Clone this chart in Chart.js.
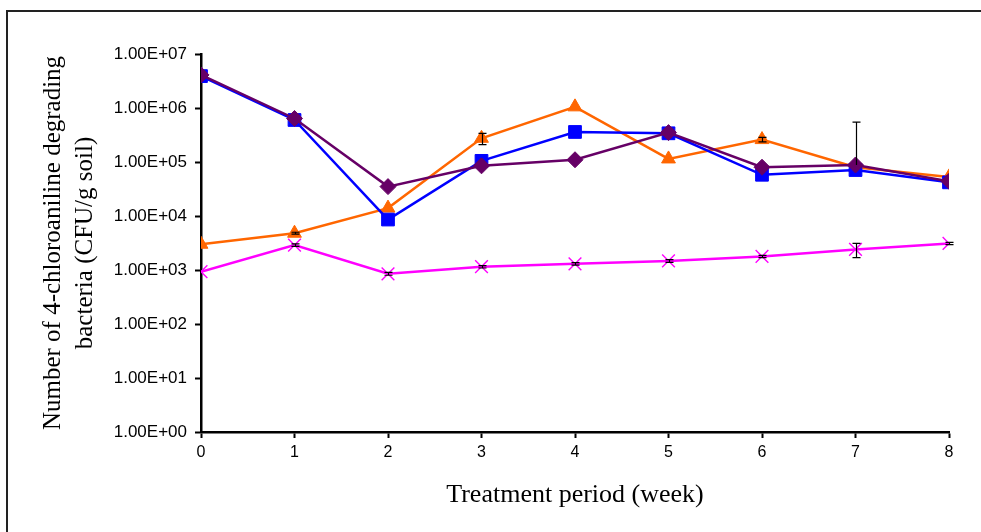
<!DOCTYPE html>
<html>
<head>
<meta charset="utf-8">
<script src="https://cdn.jsdelivr.net/npm/chart.js@4.4.1/dist/chart.umd.min.js"></script>
<style>
  html, body { margin: 0; padding: 0; background: #fff; overflow: hidden; }
  #wrap { position: relative; width: 981px; height: 532px; }
  #frame { position: absolute; left: 6px; top: 10px; width: 1000px; height: 600px; border: 2px solid #222; box-sizing: border-box; }
  canvas { position: absolute; left: 0; top: 0; }
</style>
</head>
<body>
<div id="wrap">
  <div id="frame"></div>
  <canvas id="c" width="981" height="532"></canvas>
</div>
<script>
// Treatment period (week)
const weeks = [0, 1, 2, 3, 4, 5, 6, 7, 8];
// y tick labels (log scale, powers of ten)
const yTickValues = [1, 10, 100, 1000, 10000, 100000, 1000000, 10000000];
const yTickLabels = ['1.00E+00','1.00E+01','1.00E+02','1.00E+03','1.00E+04','1.00E+05','1.00E+06','1.00E+07'];

// Series values (CFU/g soil)
const seriesPurple  = [4.1e6, 6.4e5, 3.5e4, 8.5e4, 1.1e5, 3.5e5, 8.0e4, 8.8e4, 4.4e4];
const seriesBlue    = [3.9e6, 6.0e5, 8.6e3, 1.05e5, 3.6e5, 3.4e5, 5.8e4, 7.1e4, 4.2e4];
const seriesOrange  = [3.0e3, 4.8e3, 1.4e4, 2.75e5, 1.05e6, 1.14e5, 2.6e5, 8.0e4, 5.3e4];
const seriesMagenta = [9.3e2, 2.9e3, 8.5e2, 1.15e3, 1.3e3, 1.47e3, 1.78e3, 2.4e3, 3.1e3];

// Error bar half-widths (same units)
const errPurple  = [0, 0, 0, 0, 0, 0, 0, 4.6e5, 0];
const errBlue    = [0, 0, 0, 0, 0, 0, 0, 0, 0];
const errOrange  = [0, 2e2, 0, 6.5e4, 0, 0, 2.5e4, 0, 0];
const errMagenta = [0, 1.5e2, 5e1, 6e1, 7e1, 8e1, 9e1, 7e2, 1.5e2];

const toXY = arr => arr.map((v, i) => ({ x: weeks[i], y: v }));

const errorBars = {
  id: 'errorBars',
  afterDatasetsDraw(chart) {
    const ctx = chart.ctx;
    const ys = chart.scales.y, xs = chart.scales.x;
    ctx.save();
    ctx.strokeStyle = '#000';
    ctx.lineWidth = 1.2;
    chart.data.datasets.forEach(ds => {
      const errs = ds.errors || [];
      ds.data.forEach((p, i) => {
        const e = errs[i];
        if (!e) return;
        const px = Math.round(xs.getPixelForValue(p.x)) + 0.5;
        const top = ys.getPixelForValue(p.y + e);
        const lowV = p.y - e;
        const bot = lowV > 0 ? ys.getPixelForValue(lowV) : ys.getPixelForValue(p.y);
        ctx.beginPath();
        ctx.moveTo(px, top); ctx.lineTo(px, bot);
        ctx.moveTo(px - 4, top); ctx.lineTo(px + 4, top);
        if (lowV > 0) { ctx.moveTo(px - 4, bot); ctx.lineTo(px + 4, bot); }
        ctx.stroke();
      });
    });
    ctx.restore();
  }
};

new Chart(document.getElementById('c'), {
  type: 'line',
  data: {
    datasets: [
      { data: toXY(seriesPurple), errors: errPurple, borderColor: '#660066', backgroundColor: '#660066',
        pointStyle: 'rectRot', pointRadius: 8, borderWidth: 2.5, pointBorderWidth: 1 },
      { data: toXY(seriesBlue), errors: errBlue, borderColor: '#0000FF', backgroundColor: '#0000FF',
        pointStyle: 'rect', pointRadius: 9, borderWidth: 2.5, pointBorderWidth: 1 },
      { data: toXY(seriesOrange), errors: errOrange, borderColor: '#FF6600', backgroundColor: '#FF6600',
        pointStyle: 'triangle', pointRadius: 8, borderWidth: 2.5, pointBorderWidth: 1 },
      { data: toXY(seriesMagenta), errors: errMagenta, borderColor: '#FF00FF', backgroundColor: '#FF00FF',
        pointStyle: 'crossRot', pointRadius: 9, borderWidth: 2.5, pointBorderWidth: 1.4 }
    ]
  },
  options: {
    responsive: false,
    animation: false,
    layout: { padding: { left: 0, top: 54, right: 32, bottom: 0 } },
    plugins: { legend: { display: false }, tooltip: { enabled: false } },
    elements: { line: { tension: 0 } },
    scales: {
      x: {
        type: 'linear', min: 0, max: 8,
        afterFit(s) { s.height = 100; },
        afterBuildTicks(s) { s.ticks = weeks.map(v => ({ value: v })); },
        grid: { display: true, drawOnChartArea: false, drawTicks: true, tickLength: 6, tickColor: '#000', tickWidth: 2 },
        border: { display: true, color: '#000', width: 2.5 },
        ticks: { color: '#000', font: { family: 'Liberation Sans Narrow, Liberation Sans, Arial', size: 16 }, padding: 5, maxRotation: 0 },
        title: { display: true, text: 'Treatment period (week)', color: '#000',
                 font: { family: 'Liberation Serif, Times New Roman', size: 26, lineHeight: 1.2 }, padding: { top: 0, bottom: 21 } }
      },
      y: {
        type: 'logarithmic', min: 1, max: 1e7,
        afterFit(s) { s.width = 201; },
        afterBuildTicks(s) { s.ticks = yTickValues.map(v => ({ value: v })); },
        grid: { display: true, drawOnChartArea: false, drawTicks: true, tickLength: 6, tickColor: '#000', tickWidth: 2 },
        border: { display: true, color: '#000', width: 2.5 },
        ticks: { color: '#000', font: { family: 'Liberation Sans, Arial', size: 17 }, padding: 8,
                 callback: (v) => { const i = yTickValues.indexOf(v); return i >= 0 ? yTickLabels[i] : ''; } },
        title: { display: true, text: ['Number of 4-chloroaniline degrading', 'bacteria (CFU/g soil)'], color: '#000',
                 font: { family: 'Liberation Serif, Times New Roman', size: 25, lineHeight: 1.28 }, padding: { top: 37, bottom: 0 } }
      }
    }
  },
  plugins: [errorBars]
});
</script>
</body>
</html>
